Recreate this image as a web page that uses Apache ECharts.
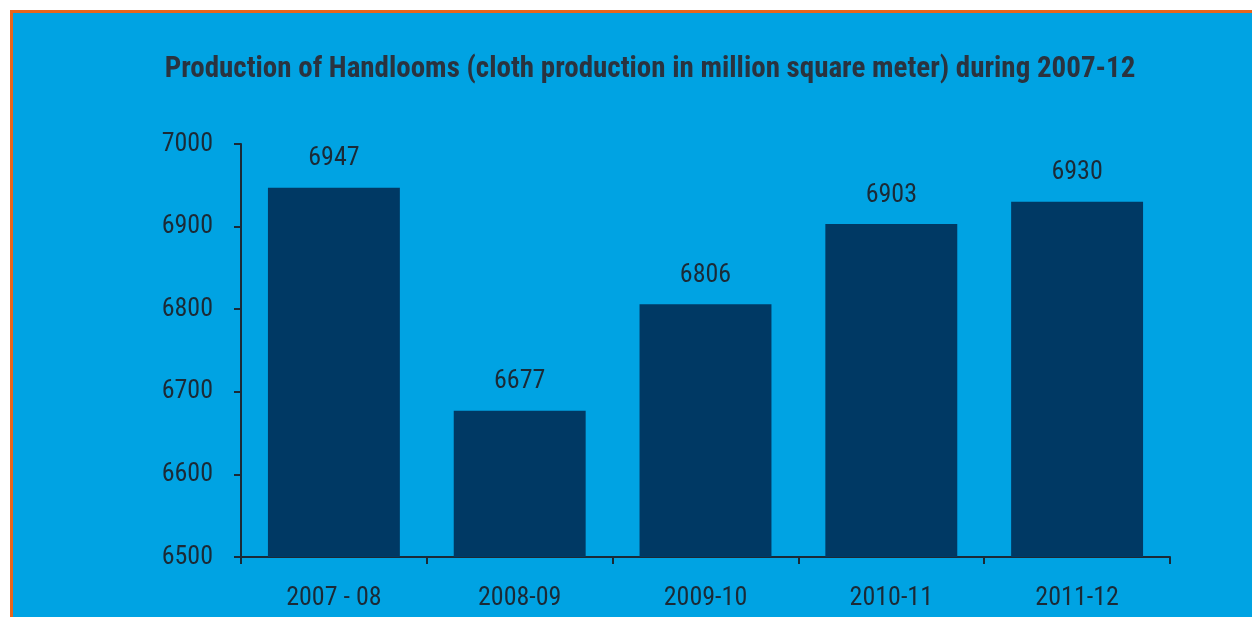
<!DOCTYPE html>
<html>
<head>
<meta charset="utf-8">
<script src="https://cdn.jsdelivr.net/npm/echarts@6/dist/echarts.min.js"></script>
<style>
  html, body { margin: 0; padding: 0; background: #ffffff; }
  #frame { position: absolute; left: 10px; top: 10px; width: 1242px; height: 607px;
           background: #00a3e3; border-top: 3px solid #e8651c; border-left: 3px solid #e8651c; box-sizing: border-box; }
  #chart { position: absolute; left: 0; top: 0; width: 1252px; height: 617px; }
</style>
</head>
<body>
<div id="frame"></div>
<div id="chart"></div>
<script>
const titleText = 'Production of Handlooms (cloth production in million square meter) during 2007-12';
const categories = ['2007 - 08', '2008-09', '2009-10', '2010-11', '2011-12'];
const production = [6947, 6677, 6806, 6903, 6930];
const yTicks = [6500, 6600, 6700, 6800, 6900, 7000];

const FONT = '"Liberation Sans Narrow", "Arial Narrow", "Roboto Condensed", sans-serif';
const TEXT = '#1b2a36';

const chart = echarts.init(document.getElementById('chart'), null, { renderer: 'canvas' });
chart.setOption({
  backgroundColor: 'transparent',
  animation: false,
  title: {
    text: titleText,
    left: 645, top: 50, textAlign: 'center',
    textStyle: { fontFamily: FONT, fontWeight: 'bold', fontSize: 29, color: '#2a333f' }
  },
  grid: { left: 241, right: 82, top: 144, bottom: 60, containLabel: false },
  xAxis: {
    type: 'category',
    data: categories,
    axisLine: { show: true, lineStyle: { color: '#1b2a36', width: 2 } },
    axisTick: { show: true, alignWithLabel: false, length: 7, inside: false, lineStyle: { color: '#1b2a36', width: 2 } },
    axisLabel: { fontFamily: FONT, fontSize: 26, color: TEXT, margin: 28 }
  },
  yAxis: {
    type: 'value',
    min: yTicks[0], max: yTicks[yTicks.length - 1], interval: 100,
    splitLine: { show: false },
    axisLine: { show: true, lineStyle: { color: '#1b2a36', width: 2 } },
    axisTick: { show: true, length: 7, lineStyle: { color: '#1b2a36', width: 2 } },
    axisLabel: { fontFamily: FONT, fontSize: 26, color: TEXT, margin: 28, formatter: v => String(v) }
  },
  series: [{
    type: 'bar',
    data: production,
    barCategoryGap: '29%',
    itemStyle: { color: '#003964' },
    label: { show: true, position: 'top', distance: 16, fontFamily: FONT, fontSize: 26, color: TEXT }
  }]
});
</script>
</body>
</html>
